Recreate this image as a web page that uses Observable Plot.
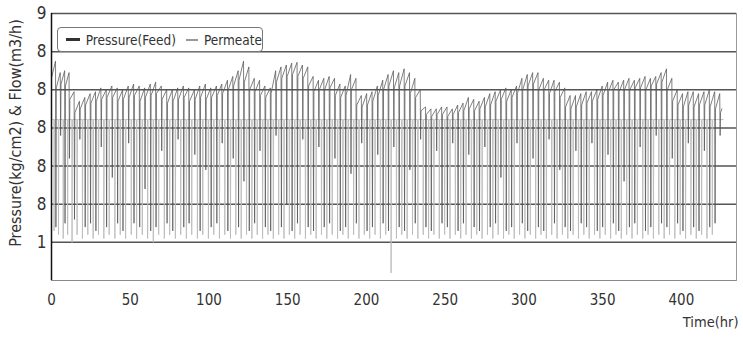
<!DOCTYPE html>
<html>
<head>
<meta charset="utf-8">
<script src="https://cdn.jsdelivr.net/npm/d3@7"></script>
<script src="https://cdn.jsdelivr.net/npm/@observablehq/plot@0.6"></script>
<style>
  html, body { margin: 0; padding: 0; background: #fff; }
  #wrap { position: relative; width: 743px; height: 338px; font-family: "DejaVu Sans Condensed", "Liberation Sans Narrow", "Roboto", sans-serif; color: #333; }
  #legend { position: absolute; left: 57px; top: 27px; width: 204px; height: 23px; border: 1px solid #777; border-radius: 4px; background: #fff; display: flex; align-items: center; font-size: 13.5px; color: #333; box-sizing: content-box; }
  .sw { display: inline-block; height: 0; margin: 0 6px 0 8px; }
</style>
</head>
<body>
<div id="wrap">
  <div id="chart"></div>
  <div id="legend">
    <span class="sw" style="width:16px;border-top:3px solid #333;"></span><span>Pressure(Feed)</span>
    <span class="sw" style="width:14px;border-top:2px solid #999;margin-left:10px;"></span><span>Permeate</span>
  </div>
</div>
<script>
// Cycle start times (hr), pressure after recovery, pressure at end of cycle, pressure dip, permeate dip
const cycleTime = [0,2.8,5.8,8.6,11.4,14.6,18.0,21.4,24.8,28.2,31.6,35.0,38.6,42.0,45.4,49.0,52.4,56.0,59.4,63.0,66.4,70.0,73.4,77.0,80.4,84.0,87.4,91.0,94.4,98.0,101.4,105.0,108.4,112.0,115.4,118.8,122.2,125.6,129.0,132.4,135.8,139.2,142.6,146.0,149.4,152.8,156.2,159.6,163.0,166.4,169.8,173.2,176.6,180.0,183.4,186.8,190.2,193.6,197.0,200.4,203.8,207.2,210.6,214.0,217.4,220.8,224.2,227.6,231.0,234.4,237.8,241.2,244.6,248.0,251.4,254.8,258.2,261.6,265.0,268.4,271.8,275.2,278.6,282.0,285.4,288.8,292.2,295.6,299.0,302.4,305.8,309.2,312.6,316.0,319.4,322.8,326.2,329.6,333.0,336.4,339.8,343.2,346.6,350.0,353.4,356.8,360.2,363.6,367.0,370.4,373.8,377.2,380.6,384.0,387.4,390.8,394.2,397.6,401.0,404.4,407.8,411.2,414.6,418.0,421.4,424.6];
const pStart = [5.35,5.05,5.15,5.1,4.75,4.4,4.5,4.6,4.65,4.7,4.75,4.8,4.8,4.7,4.75,4.8,4.85,4.7,4.8,4.85,4.9,4.75,4.65,4.7,4.75,4.8,4.7,4.75,4.8,4.75,4.8,4.85,4.9,5.0,5.1,5.25,5.2,5.0,4.95,4.85,4.8,4.9,5.2,5.3,5.35,5.4,5.35,5.3,5.1,4.95,5.0,5.0,5.05,4.85,4.8,4.85,5.0,4.6,4.55,4.6,4.7,4.85,5.0,5.1,5.05,5.1,5.1,4.9,4.8,4.45,4.35,4.3,4.35,4.35,4.3,4.35,4.4,4.45,4.5,4.45,4.5,4.55,4.6,4.7,4.75,4.7,4.8,4.9,5.0,5.1,5.15,5.0,5.0,4.9,4.95,4.8,4.55,4.5,4.55,4.6,4.65,4.7,4.75,4.85,4.95,5.0,4.95,5.0,5.0,5.05,5.05,5.0,5.1,5.15,5.2,5.0,4.7,4.6,4.55,4.6,4.55,4.6,4.6,4.55,4.5,4.4];
const pPeak = [5.75,5.45,5.5,5.45,4.95,4.7,4.8,4.9,4.95,5.05,5.0,5.1,5.05,5.0,5.1,5.15,5.1,5.05,5.15,5.2,5.1,5.0,5.0,5.05,5.1,5.05,5.0,5.1,5.15,5.05,5.1,5.15,5.25,5.35,5.5,5.75,5.6,5.3,5.25,5.1,5.05,5.5,5.6,5.65,5.7,5.72,5.65,5.6,5.35,5.25,5.3,5.35,5.3,5.15,5.1,5.4,5.3,4.85,4.9,4.95,5.1,5.25,5.4,5.5,5.45,5.55,5.45,5.3,5.0,4.55,4.5,4.5,4.55,4.55,4.5,4.6,4.65,4.8,4.75,4.7,4.8,4.9,4.95,5.0,5.05,5.0,5.1,5.3,5.4,5.45,5.45,5.3,5.25,5.25,5.2,5.05,4.85,4.85,4.9,4.95,4.95,5.0,5.1,5.2,5.25,5.2,5.25,5.3,5.25,5.3,5.35,5.3,5.35,5.45,5.55,5.3,5.0,4.9,4.95,4.95,4.9,4.95,5.0,4.95,4.9,4.5];
const pDip = [null,1.4,3.8,1.5,3.2,1.6,3.7,1.4,1.5,1.3,3.5,1.4,2.7,1.5,1.3,3.6,1.5,1.4,2.4,1.3,1.4,3.4,1.5,1.3,3.7,1.4,1.5,3.3,1.3,2.9,1.4,1.5,3.6,1.3,3.2,1.4,2.6,1.3,1.5,3.4,1.4,1.3,3.8,1.4,2.0,1.3,1.5,3.7,1.4,1.3,3.5,1.4,1.5,3.2,1.3,1.4,2.8,1.5,3.6,1.3,1.4,3.3,1.5,1.3,3.5,1.4,1.3,2.9,1.5,3.7,1.4,1.3,3.4,1.5,1.4,3.6,1.3,1.5,3.3,1.4,1.3,3.5,1.4,1.5,2.7,1.3,1.4,3.6,1.5,1.3,3.2,1.4,1.3,3.7,1.5,2.9,1.4,1.3,3.4,1.5,1.4,3.6,1.3,1.4,3.3,1.5,1.3,2.6,1.4,1.5,3.5,1.3,1.4,3.8,1.5,1.4,3.2,1.5,1.3,3.6,1.4,1.3,3.4,1.4,1.5,3.8];
const fDip = [1.3,1.2,1.1,1.2,1.0,1.2,1.1,1.2,1.1,1.2,1.1,1.2,1.1,1.2,1.1,1.2,1.1,1.2,1.1,1.0,1.2,1.1,1.2,1.1,1.2,1.1,1.2,1.1,1.2,1.1,1.2,1.1,1.2,1.1,1.2,1.1,1.2,1.1,1.2,1.1,1.2,1.1,1.2,1.1,1.2,1.1,1.2,1.1,1.2,1.1,1.2,1.1,1.2,1.1,1.2,1.1,1.2,1.1,1.2,1.1,1.2,1.1,1.2,0.2,1.1,1.2,1.1,1.2,1.1,1.2,1.1,1.2,1.1,1.2,1.1,1.2,1.1,1.2,1.1,1.2,1.1,1.2,1.1,1.2,1.1,1.2,1.1,1.2,1.1,1.2,1.1,1.2,1.1,1.2,1.1,1.2,1.1,1.2,1.1,1.2,1.1,1.2,1.1,1.2,1.1,1.2,1.1,1.2,1.1,1.2,1.1,1.2,1.1,1.2,1.1,1.2,1.1,1.2,1.1,1.2,1.1,1.2,1.1,1.2];
const permeateLevel = 4.22;
const endTime = 426;

const yTickValues = [1, 2, 3, 4, 5, 6, 7];
const yTickLabels = ["1", "8", "8", "8", "8", "8", "9"];
const xTickValues = [0, 50, 100, 150, 200, 250, 300, 350, 400];

// Build line tables from the arrays above
const pressure = [];
const permeate = [{t: 0, v: permeateLevel}];
cycleTime.forEach((t, i) => {
  const next = i + 1 < cycleTime.length ? cycleTime[i + 1] : endTime;
  if (pDip[i] != null) pressure.push({t, v: pDip[i]});
  pressure.push({t: t + 0.25, v: pStart[i]});
  pressure.push({t: next - 0.25, v: pPeak[i]});
  const ft = t + 1.6;
  permeate.push({t: ft - 0.1, v: permeateLevel});
  permeate.push({t: ft + 0.05, v: fDip[i]});
  permeate.push({t: ft + 0.3, v: permeateLevel});
});
permeate.push({t: endTime, v: permeateLevel});

const font = '"DejaVu Sans Condensed", "Liberation Sans Narrow", Roboto, sans-serif';

const chart = Plot.plot({
  width: 743,
  height: 338,
  marginLeft: 51,
  marginRight: 7,
  marginTop: 13,
  marginBottom: 58,
  style: {fontFamily: font, color: "#333", background: "#fff"},
  x: {domain: [0, 435]},
  y: {domain: [0, 7]},
  marks: [
    Plot.frame({stroke: "#999", strokeWidth: 1}),
    Plot.ruleY(yTickValues, {stroke: "#555", strokeWidth: 1.5}),
    Plot.line(permeate, {x: "t", y: "v", stroke: "#bbb", strokeWidth: 0.9}),
    Plot.line(pressure, {x: "t", y: "v", stroke: "#555", strokeWidth: 0.75}),
    Plot.ruleY([0], {stroke: "#888", strokeWidth: 1.2}),
    Plot.ruleX([0], {stroke: "#111", strokeWidth: 1.5}),
    Plot.axisY(yTickValues, {tickSize: 0, tickPadding: 5, fontSize: 17, tickFormat: (d) => yTickLabels[yTickValues.indexOf(d)], label: null}),
    Plot.axisX(xTickValues, {tickSize: 0, tickPadding: 14, fontSize: 15, label: null}),
    Plot.text(["Pressure(kg/cm2) & Flow(m3/h)"], {frameAnchor: "left", dx: -36, dy: -14, rotate: -90, fontSize: 16, fill: "#333", textAnchor: "middle"}),
    Plot.text(["Time(hr)"], {frameAnchor: "bottom-right", dx: 2, dy: 46, fontSize: 14.5, fill: "#333", textAnchor: "end"})
  ]
});
document.getElementById("chart").appendChild(chart);
</script>
</body>
</html>
